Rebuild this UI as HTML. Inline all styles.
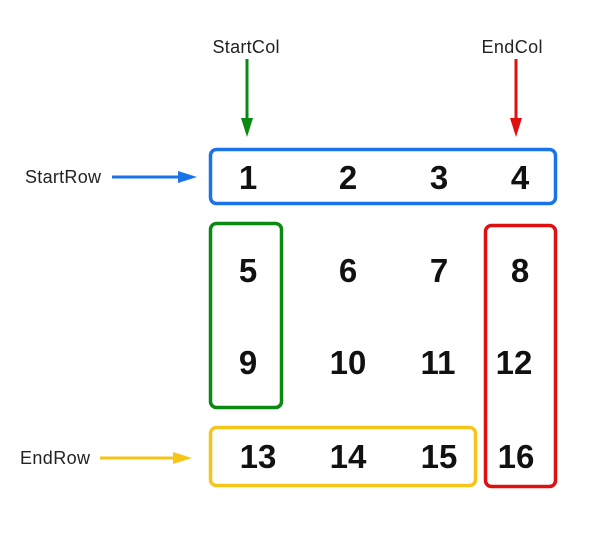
<!DOCTYPE html>
<html><head><meta charset="utf-8">
<style>
html,body{margin:0;padding:0;background:#fff;}
svg{display:block;}
.lbl{font-family:"Liberation Sans",sans-serif;font-size:18px;fill:#222;}
.num{font-family:"Liberation Sans",sans-serif;font-size:33px;font-weight:bold;fill:#111;text-anchor:middle;}
</style></head>
<body>
<svg width="603" height="536" viewBox="0 0 603 536">
<text class="lbl" x="246" y="53" text-anchor="middle" textLength="67">StartCol</text>
<g>
<line x1="247" y1="59" x2="247" y2="120" stroke="#0a8a12" stroke-width="3"/>
<polygon points="241,118 253,118 247,137" fill="#0a8a12"/>
</g>
<text class="lbl" x="512" y="53" text-anchor="middle" textLength="61">EndCol</text>
<g>
<line x1="516" y1="59" x2="516" y2="120" stroke="#e01010" stroke-width="3"/>
<polygon points="510,118 522,118 516,137" fill="#e01010"/>
</g>
<text class="lbl" x="25" y="183" textLength="76">StartRow</text>
<g>
<line x1="112" y1="177" x2="180" y2="177" stroke="#1a73e8" stroke-width="3"/>
<polygon points="178,171 178,183 197,177" fill="#1a73e8"/>
</g>
<text class="lbl" x="20" y="464" textLength="70">EndRow</text>
<g>
<line x1="100" y1="458" x2="175" y2="458" stroke="#f5c518" stroke-width="3"/>
<polygon points="173,452 173,464 192,458" fill="#f5c518"/>
</g>
<rect x="210.5" y="149.5" width="345" height="54" rx="6" fill="none" stroke="#1a73e8" stroke-width="3.5"/>
<rect x="210.5" y="223.5" width="71" height="184" rx="6" fill="none" stroke="#0a8a12" stroke-width="3.5"/>
<rect x="485.5" y="225.5" width="70" height="261" rx="6" fill="none" stroke="#e01010" stroke-width="3.5"/>
<rect x="210.5" y="427.5" width="265" height="58" rx="6" fill="none" stroke="#f5c518" stroke-width="3.5"/>
<g>
<text class="num" x="248" y="189">1</text><text class="num" x="348" y="189">2</text><text class="num" x="439" y="189">3</text><text class="num" x="520" y="189">4</text>
<text class="num" x="248" y="282">5</text><text class="num" x="348" y="282">6</text><text class="num" x="439" y="282">7</text><text class="num" x="520" y="282">8</text>
<text class="num" x="248" y="374">9</text><text class="num" x="348" y="374">10</text><text class="num" x="438" y="374">11</text><text class="num" x="514" y="374">12</text>
<text class="num" x="258" y="468">13</text><text class="num" x="348" y="468">14</text><text class="num" x="439" y="468">15</text><text class="num" x="516" y="468">16</text>
</g>
</svg>
</body></html>
